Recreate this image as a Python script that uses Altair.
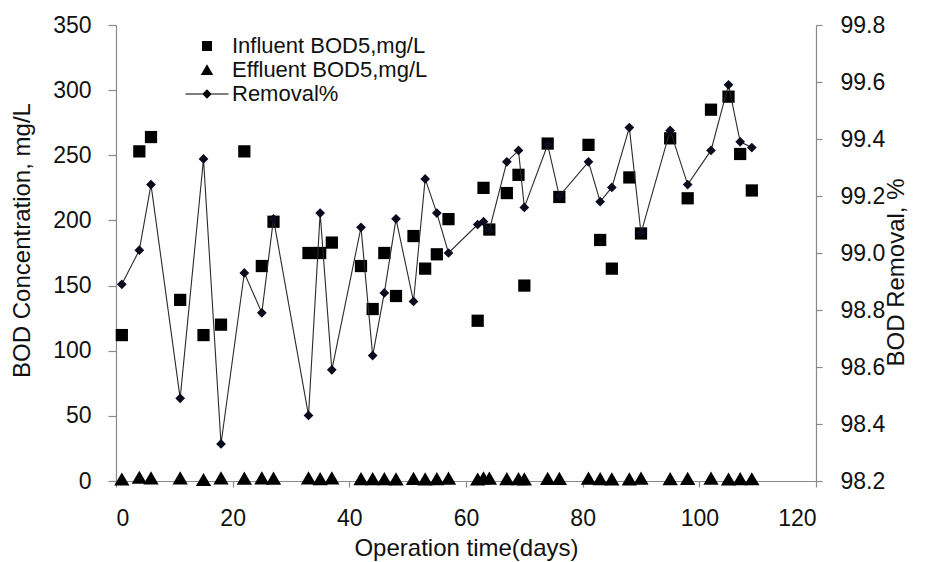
import altair as alt
import pandas as pd

days = [1, 4, 6, 11, 15, 18, 22, 25, 27, 33, 35, 37, 42, 44, 46, 48, 51, 53, 55, 57,
        62, 63, 64, 67, 69, 70, 74, 76, 81, 83, 85, 88, 90, 95, 98, 102, 105, 107, 109]
influent = [112, 253, 264, 139, 112, 120, 253, 165, 199, 175, 175, 183, 165, 132, 175, 142, 188, 163, 174, 201,
            123, 225, 193, 221, 235, 150, 259, 218, 258, 185, 163, 233, 190, 263, 217, 285, 295, 251, 223]
effluent = [1.2, 2.5, 2.0, 2.1, 0.8, 2.0, 1.8, 2.0, 1.8, 2.0, 1.5, 2.0, 1.5, 1.5, 1.5, 1.3, 1.7, 1.3, 1.5, 1.9,
            1.2, 2.0, 1.8, 1.5, 1.5, 1.3, 1.6, 1.7, 1.8, 1.5, 1.3, 1.3, 1.8, 1.5, 1.6, 1.8, 1.2, 1.5, 1.4]
removal = [98.89, 99.01, 99.24, 98.49, 99.33, 98.33, 98.93, 98.79, 99.12, 98.43, 99.14, 98.59, 99.09, 98.64,
           98.86, 99.12, 98.83, 99.26, 99.14, 99.00, 99.10, 99.11, 99.08, 99.32, 99.36, 99.16, 99.38, 99.20,
           99.32, 99.18, 99.23, 99.44, 99.07, 99.43, 99.24, 99.36, 99.59, 99.39, 99.37]

series_names = ["Influent BOD5,mg/L", "Effluent BOD5,mg/L", "Removal%"]
x_ticks = [0, 20, 40, 60, 80, 100, 120]
left_ticks = [0, 50, 100, 150, 200, 250, 300, 350]
right_ticks = [98.2, 98.4, 98.6, 98.8, 99.0, 99.2, 99.4, 99.6, 99.8]

df = pd.DataFrame({"day": days, series_names[0]: influent, series_names[1]: effluent, "removal": removal})

FONT = "Liberation Sans"
AX = "#8a8a8a"
TXT = "#111111"

triangle_symbol = "M0,-1.15L1.25,1.0L-1.25,1.0Z"
removal_symbol = "M-4.3,-0.12H4.3V0.12H-4.3ZM0,-0.95L0.95,0L0,0.95L-0.95,0Z"

x_enc = alt.X("day:Q", scale=alt.Scale(domain=[0, 120], nice=False),
              axis=alt.Axis(values=x_ticks, title="Operation time(days)", grid=False,
                            tickSize=6, labelPadding=20, labelFontSize=23, labelFont=FONT, labelColor=TXT,
                            titleFontSize=24, titleFont=FONT, titleFontWeight="normal", titleColor=TXT,
                            titleX=350, titleY=74, titleAlign="center", titleBaseline="alphabetic",
                            domainColor=AX, tickColor=AX, domainWidth=1.2, tickWidth=1.2))

points = alt.Chart(df).transform_fold(
    [series_names[0], series_names[1]], as_=["series", "value"]
).mark_point(filled=True, size=150, opacity=1, color="black").encode(
    x=x_enc,
    y=alt.Y("value:Q", scale=alt.Scale(domain=[0, 350], nice=False),
            axis=alt.Axis(values=left_ticks, title="BOD Concentration, mg/L", grid=False, orient="left",
                          tickSize=8, labelPadding=17, labelFontSize=23, labelFont=FONT, labelColor=TXT,
                          titleFontSize=24, titleFont=FONT, titleFontWeight="normal", titleColor=TXT,
                          titleAngle=270, titleX=-94, titleY=215, titleAlign="center", titleBaseline="middle",
                          domainColor=AX, tickColor=AX, domainWidth=1.2, tickWidth=1.2)),
    shape=alt.Shape("series:N",
                    scale=alt.Scale(domain=series_names, range=["square", triangle_symbol, removal_symbol]),
                    legend=alt.Legend(title=None, orient="none", legendX=80, legendY=10,
                                      labelFontSize=22, labelFont=FONT, labelColor=TXT, labelLimit=0,
                                      symbolSize=100, symbolFillColor="black", symbolStrokeWidth=0,
                                      symbolType="square", rowPadding=2, labelOffset=14, padding=0)),
)

line = alt.Chart(df).mark_line(
    color="#2a2a2a", strokeWidth=1.1,
    point=alt.OverlayMarkDef(shape="diamond", filled=True, size=95, color="#0b0b1e", opacity=1),
).encode(
    x=x_enc,
    y=alt.Y("removal:Q", scale=alt.Scale(domain=[98.2, 99.8], nice=False, zero=False),
            axis=alt.Axis(values=right_ticks, format=".1f", title="BOD Removal, %", grid=False, orient="right",
                          tickSize=6, labelPadding=18, labelFontSize=23, labelFont=FONT, labelColor=TXT,
                          titleFontSize=24, titleFont=FONT, titleFontWeight="normal", titleColor=TXT,
                          titleAngle=270, titleX=80, titleY=247, titleAlign="center", titleBaseline="middle",
                          domainColor=AX, tickColor=AX, domainWidth=1.2, tickWidth=1.2)),
)

chart = alt.layer(points, line).resolve_scale(y="independent").properties(
    width=700, height=456,
    autosize=alt.AutoSizeParams(type="none"),
    padding={"left": 108, "top": 17, "right": 110, "bottom": 88},
    background="white",
).configure_view(strokeWidth=0)

chart.save("out.html", embed_options={"renderer": "svg", "actions": False})
